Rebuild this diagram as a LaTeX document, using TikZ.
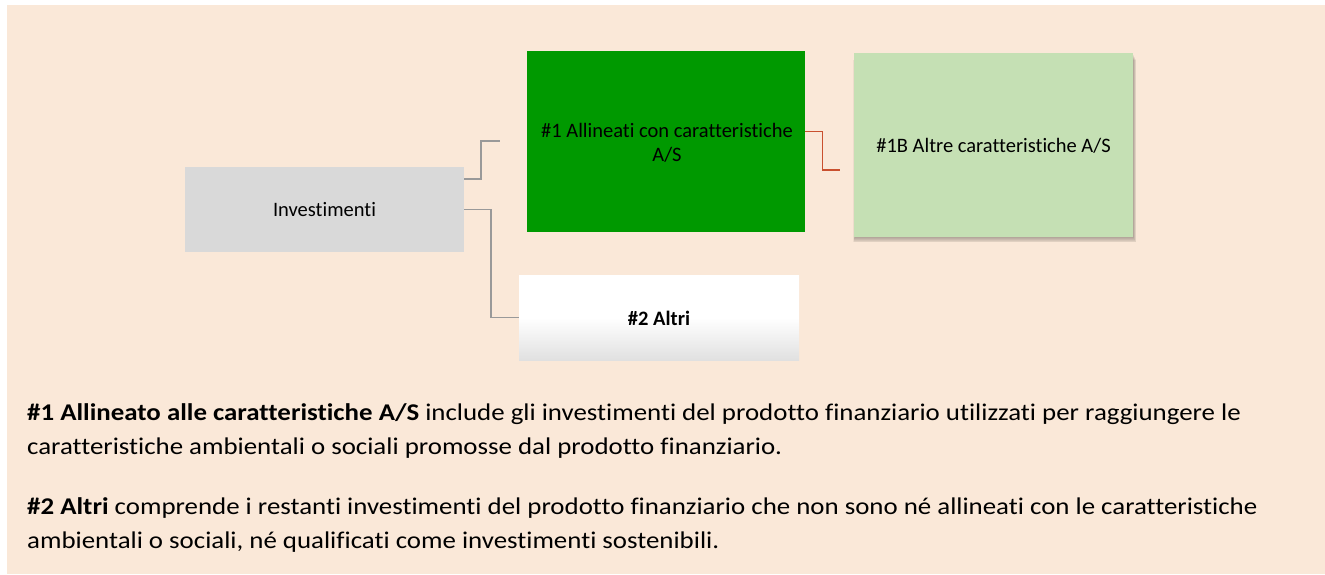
\documentclass[tikz,border=0pt]{standalone}
\usepackage{fontspec}
\setmainfont{Carlito}[Ligatures=NoCommon]
\newfontfamily\bodyfont{Carlito}[Ligatures=NoCommon,FakeStretch=1.12]
\definecolor{bgbeige}{HTML}{FAE8D8}
\definecolor{boxgray}{HTML}{D9D9D9}
\definecolor{darkgreen}{HTML}{009900}
\definecolor{lightgreen}{HTML}{C5E0B4}
\definecolor{linegray}{HTML}{999999}
\definecolor{linered}{HTML}{C9502F}
\definecolor{gradgray}{HTML}{E0E0E0}
\tikzset{
  x=1pt,y=-1pt,
  boxbase/.style={rectangle,inner sep=0pt,align=center,font=\fontsize{20.5}{24}\selectfont,text=black},
  grayconn/.style={draw=linegray,line width=1.4pt},
  redconn/.style={draw=linered,line width=1.8pt},
  bodytext/.style={anchor=base west,inner sep=0pt,font=\bodyfont\fontsize{24}{28}\selectfont,text=black}
}
\begin{document}
\begin{tikzpicture}
\useasboundingbox (0,0) rectangle (1325,574);
\fill[bgbeige] (7,5) rectangle (1325,574);
% shadow of the light green box
\foreach \i in {1,...,6}{
  \fill[black,opacity=0.05] (855-0.3*\i,54+\i) rectangle (1133+0.5*\i,237+0.9*\i);
}
% boxes
\node[boxbase,fill=boxgray,minimum width=279pt,minimum height=85pt] (inv) at (324.5,209.5) {Investimenti};
\node[boxbase,fill=darkgreen,minimum width=278pt,minimum height=181pt] (g1) at (666,141.5) {};
\node[boxbase] (g1t) at (667,143) {\#1 Allineati con caratteristiche\\A/S};
\node[boxbase,fill=lightgreen,minimum width=279pt,minimum height=184pt] (g1b) at (993.5,145) {};
\node[boxbase] (g1bt) at (993.5,146) {\#1B Altre caratteristiche A/S};
\node[boxbase,top color=white,bottom color=gradgray,middle color=white,minimum width=280pt,minimum height=85.5pt] (alt) at (659,317.75) {};
\node[boxbase,font=\fontsize{20.5}{24}\selectfont\bfseries] (altt) at (659,318) {\#2 Altri};
% connectors
\coordinate (c1) at (500,141);
\coordinate (c2) at (840,170);
\draw[grayconn] ([yshift=30.5pt]inv.east) -| (481,179) |- (c1);
\draw[grayconn] (inv.east) -| (491,260) |- (alt.west);
\draw[redconn] ([yshift=10pt]g1.east) -| (822.5,150) |- (c2);
% body text
\node[bodytext] (p1a) at (27,420) {\textbf{\#1 Allineato alle caratteristiche A/S} include gli investimenti del prodotto finanziario utilizzati per raggiungere le};
\node[bodytext] (p1b) at (27,454) {caratteristiche ambientali o sociali promosse dal prodotto finanziario.};
\node[bodytext] (p2a) at (27,514) {\textbf{\#2 Altri} comprende i restanti investimenti del prodotto finanziario che non sono né allineati con le caratteristiche};
\node[bodytext] (p2b) at (27,548.5) {ambientali o sociali, né qualificati come investimenti sostenibili.};
\end{tikzpicture}
\end{document}
